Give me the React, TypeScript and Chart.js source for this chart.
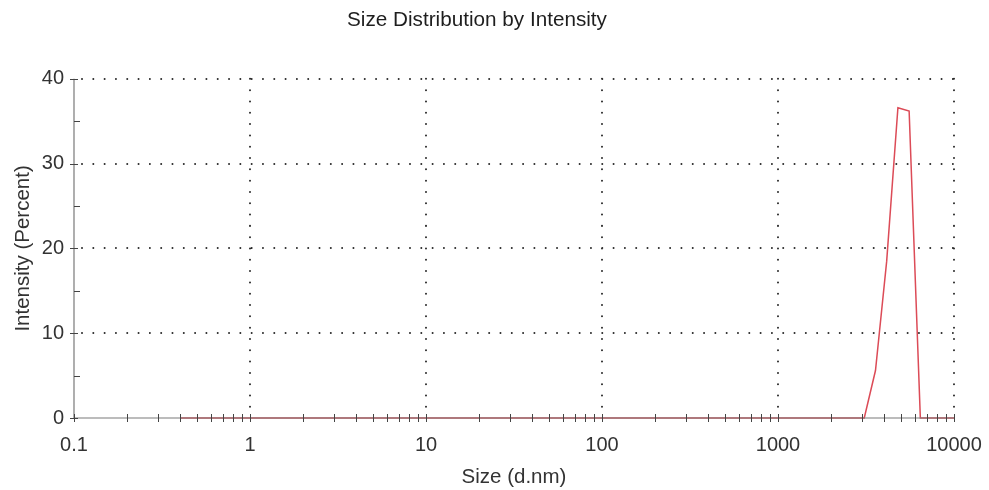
import React, { useEffect, useRef } from "react";
import { Chart, registerables } from "chart.js";

Chart.register(...registerables);

const chartTitle = "Size Distribution by Intensity";
const xTitle = "Size (d.nm)";
const yTitle = "Intensity (Percent)";

const sizes = [
  0.4, 0.4632, 0.5365, 0.6213, 0.7195, 0.8332, 0.9649, 1.117, 1.294, 1.499,
  1.736, 2.01, 2.328, 2.696, 3.122, 3.615, 4.187, 4.849, 5.615, 6.503,
  7.531, 8.721, 10.1, 11.7, 13.54, 15.69, 18.17, 21.04, 24.36, 28.21,
  32.67, 37.84, 43.82, 50.75, 58.77, 68.06, 78.82, 91.28, 105.7, 122.4,
  141.8, 164.2, 190.1, 220.2, 255.0, 295.3, 342.0, 396.1, 458.7, 531.2,
  615.1, 712.4, 825.0, 955.4, 1106, 1281, 1484, 1718, 1990, 2305,
  2669, 3091, 3580, 4145, 4801, 5560, 6439, 7456, 8635, 10000,
];

const intensity = [
  0, 0, 0, 0, 0, 0, 0, 0, 0, 0,
  0, 0, 0, 0, 0, 0, 0, 0, 0, 0,
  0, 0, 0, 0, 0, 0, 0, 0, 0, 0,
  0, 0, 0, 0, 0, 0, 0, 0, 0, 0,
  0, 0, 0, 0, 0, 0, 0, 0, 0, 0,
  0, 0, 0, 0, 0, 0, 0, 0, 0, 0,
  0, 0, 5.6, 18.5, 36.6, 36.2, 0, 0, 0, 0,
];

const xMajorTicks = [0.1, 1, 10, 100, 1000, 10000];
const yMajorTicks = [0, 10, 20, 30, 40];
const yMinorTicks = [5, 15, 25, 35];

const FONT = "'Liberation Sans', Arial, sans-serif";
const AXIS_COLOR = "#7a7a7a";
const GRID_COLOR = "#2a2a2a";

const dottedGridPlugin = {
  id: "dottedGrid",
  beforeDatasetsDraw(chart: any) {
    const ctx = chart.ctx;
    const xs = chart.scales.x;
    const ys = chart.scales.y;
    const area = chart.chartArea;
    ctx.save();
    ctx.strokeStyle = GRID_COLOR;
    ctx.lineWidth = 2;
    ctx.lineCap = "round";
    ctx.setLineDash([0.01, 11.3]);
    ctx.beginPath();
    for (const v of yMajorTicks) {
      if (v === 0) continue;
      const py = Math.round(ys.getPixelForValue(v));
      ctx.moveTo(area.left + 8, py);
      ctx.lineTo(area.right, py);
    }
    for (const v of xMajorTicks) {
      if (v === 0.1) continue;
      const px = Math.round(xs.getPixelForValue(v));
      ctx.moveTo(px, area.top);
      ctx.lineTo(px, area.bottom - 6);
    }
    ctx.stroke();
    ctx.restore();
  },
};

const axisTicksPlugin = {
  id: "axisTicks",
  afterDatasetsDraw(chart: any) {
    const ctx = chart.ctx;
    const xs = chart.scales.x;
    const ys = chart.scales.y;
    const area = chart.chartArea;
    ctx.save();
    ctx.strokeStyle = AXIS_COLOR;
    ctx.lineWidth = 1.2;
    ctx.beginPath();
    ctx.moveTo(area.left, area.top);
    ctx.lineTo(area.left, area.bottom);
    ctx.lineTo(area.right, area.bottom);
    ctx.stroke();
    ctx.strokeStyle = "#444";
    ctx.lineWidth = 1;
    ctx.beginPath();
    for (let d = 0; d < xMajorTicks.length; d++) {
      const base = xMajorTicks[d];
      const px = Math.round(xs.getPixelForValue(base)) + 0.5;
      ctx.moveTo(px, area.bottom - 4);
      ctx.lineTo(px, area.bottom + 4);
      if (d < xMajorTicks.length - 1) {
        for (let m = 2; m <= 9; m++) {
          const p = Math.round(xs.getPixelForValue(base * m)) + 0.5;
          ctx.moveTo(p, area.bottom - 4);
          ctx.lineTo(p, area.bottom + 4);
        }
      }
    }
    for (const v of yMajorTicks) {
      const py = Math.round(ys.getPixelForValue(v)) + 0.5;
      ctx.moveTo(area.left - 4, py);
      ctx.lineTo(area.left + 4, py);
    }
    for (const v of yMinorTicks) {
      const py = Math.round(ys.getPixelForValue(v)) + 0.5;
      ctx.moveTo(area.left, py);
      ctx.lineTo(area.left + 6, py);
    }
    ctx.stroke();
    ctx.restore();
  },
};

export default function App() {
  const canvasRef = useRef<HTMLCanvasElement | null>(null);

  useEffect(() => {
    const canvas = canvasRef.current;
    if (!canvas) return;
    const data = sizes.map((s, i) => ({ x: s, y: intensity[i] }));
    const chart = new Chart(canvas, {
      type: "line",
      data: {
        datasets: [
          {
            data,
            borderColor: "#dc4b57",
            borderWidth: 1.5,
            pointRadius: 0,
            tension: 0,
            fill: false,
            clip: false as any,
          },
        ],
      },
      options: {
        responsive: false,
        animation: false,
        layout: { padding: { left: 0, right: 35, top: 0, bottom: 0 } },
        plugins: {
          legend: { display: false },
          tooltip: { enabled: false },
          title: {
            display: true,
            text: chartTitle,
            color: "#1e1e1e",
            font: { family: FONT, size: 20.7, weight: "normal" },
            padding: { top: 8, bottom: 46 },
          },
        },
        scales: {
          x: {
            type: "logarithmic",
            min: 0.1,
            max: 10000,
            afterBuildTicks: (scale: any) => {
              scale.ticks = xMajorTicks.map((v) => ({ value: v }));
            },
            afterFit: (scale: any) => {
              scale.height = 72;
              scale.paddingLeft = 0;
              scale.paddingRight = 0;
            },
            border: { display: false },
            grid: { display: false, drawTicks: false },
            ticks: {
              padding: 15,
              color: "#333",
              font: { family: FONT, size: 20 },
              maxRotation: 0,
              autoSkip: false,
              callback: (v: any) => String(Number(v)),
            },
            title: {
              display: true,
              text: xTitle,
              color: "#333",
              font: { family: FONT, size: 20.5 },
              padding: { top: 0, bottom: 0 },
            },
          },
          y: {
            type: "linear",
            min: 0,
            max: 40,
            afterFit: (scale: any) => {
              scale.width = 74;
              scale.paddingTop = 0;
              scale.paddingBottom = 0;
            },
            border: { display: false },
            grid: { display: false, drawTicks: false },
            ticks: {
              stepSize: 10,
              padding: 10,
              color: "#333",
              font: { family: FONT, size: 20 },
            },
            title: {
              display: true,
              text: yTitle,
              color: "#333",
              font: { family: FONT, size: 20.5 },
              padding: { top: 11, bottom: 0 },
            },
          },
        },
      } as any,
      plugins: [dottedGridPlugin, axisTicksPlugin],
    });
    return () => chart.destroy();
  }, []);

  return (
    <div style={{ position: "absolute", left: 0, top: 0, width: 989, height: 490, background: "#fff" }}>
      <canvas ref={canvasRef} width={989} height={490} style={{ width: 989, height: 490 }} />
    </div>
  );
}
